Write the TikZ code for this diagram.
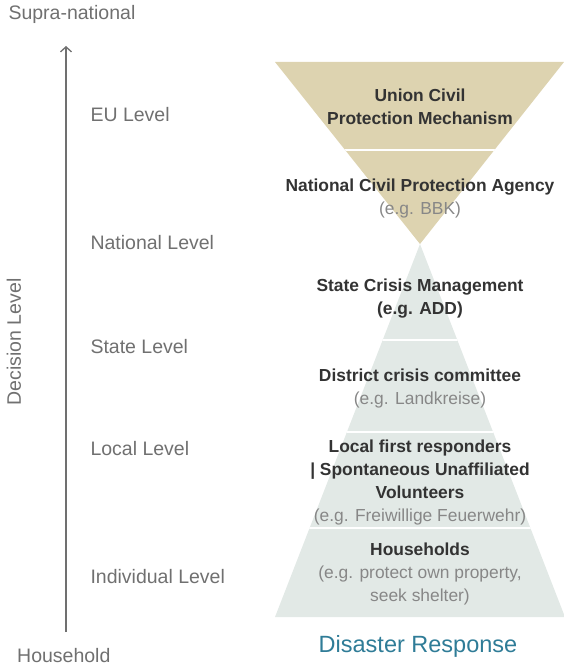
\documentclass[tikz,border=0pt]{standalone}
\usepackage{fontspec}
\setmainfont{Liberation Sans}
\usepackage{tikz}
\usetikzlibrary{arrows.meta,positioning,calc}
\definecolor{eutan}{RGB}{221,211,176}
\definecolor{natgrey}{RGB}{226,233,230}
\definecolor{levelgrey}{RGB}{112,112,112}
\definecolor{headgrey}{RGB}{51,51,51}
\definecolor{subgrey}{RGB}{135,135,135}
\definecolor{respteal}{RGB}{47,124,151}
\tikzset{
    %Define standard arrow tip
    >={Straight Barb[length=5pt,width=11pt]},
    %Define style for level labels
    level/.style={
           anchor=west, text=levelgrey,
           font=\fontsize{19.5}{22}\selectfont},
    %Define style for actor boxes
    actor/.style={
           align=center, text=headgrey, inner sep=0pt,
           font=\fontsize{17.4}{23}\selectfont\bfseries},
    % Define divider style
    divider/.style={
           white, line width=1.2pt}
}
\newcommand{\eg}[1]{{\color{subgrey}\mdseries #1}}

\begin{document}
\begin{tikzpicture}[x=1pt, y=-1pt]
	\useasboundingbox (0,0) rectangle (564,666);

	% Pyramids
	\coordinate (apex) at (420,244);
	\fill[eutan] (275,62) -- (564,62) -- (apex) -- cycle;
	\fill[natgrey] (apex) -- (565,617) -- (275,617) -- cycle;
	\begin{scope}
		\clip (275,62) -- (564,62) -- (apex) -- cycle;
		\draw[divider] (270,150) -- (570,150);
	\end{scope}
	\begin{scope}
		\clip (apex) -- (565,617) -- (275,617) -- cycle;
		\foreach \y in {340,432,528}
			\draw[divider] (270,\y) -- (570,\y);
	\end{scope}

	% Decision axis
	\coordinate (bottom) at (66,632);
	\coordinate (top) at (66,46);
	\draw[->, levelgrey, line width=1.3pt] (bottom) -- (top);
	\node[level] (supra) at (5,14) {Supra-national};
	\node[level, inner sep=1pt] (household) at (16,656) {Household};
	\node[level, anchor=center, rotate=90] (decision) at (14,342) {Decision Level};

	% Level labels
	\node[level] (eu) at (87,115) {EU Level};
	\node[level] (national) at (87,243) {National Level};
	\node[level] (state) at (87,347) {State Level};
	\node[level] (local) at (87,449) {Local Level};
	\node[level] (individual) at (87,577) {Individual Level};

	% Actors
	\node[actor] (union) at (420,107) {Union Civil\\Protection Mechanism};
	\node[actor] (agency) at (420,199) {National Civil Protection Agency\\\eg{(e.g. BBK)}};
	\node[actor] (crisis) at (420,299) {State Crisis Management\\(e.g. ADD)};
	\node[actor] (district) at (420,388) {District crisis committee\\\eg{(e.g. Landkreise)}};
	\node[actor] (responders) at (420,482) {Local first responders\\| Spontaneous Unaffiliated\\Volunteers\\\eg{(e.g. Freiwillige Feuerwehr)}};
	\node[actor] (households) at (420,574) {Households\\\eg{(e.g. protect own property,}\\\eg{seek shelter)}};
	\node[text=respteal, font=\fontsize{23.5}{26}\selectfont] (response) at (418,646) {Disaster Response};
\end{tikzpicture}
\end{document}
